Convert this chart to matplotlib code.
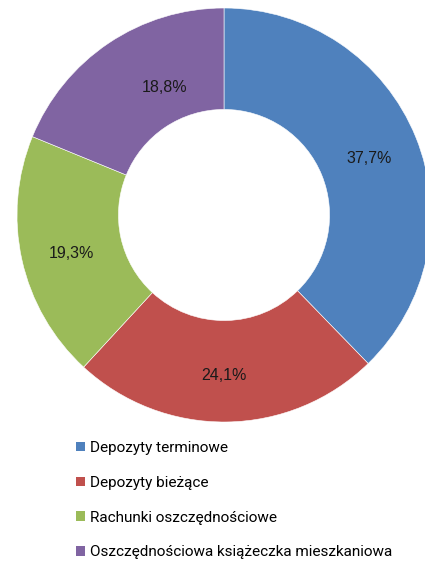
import matplotlib as mpl; mpl.use("Agg")
import matplotlib.pyplot as plt
from matplotlib.patches import Patch

# shares of household deposits (%)
labels = ["Depozyty terminowe", "Depozyty bieżące",
          "Rachunki oszczędnościowe", "Oszczędnościowa książeczka mieszkaniowa"]
values = [37.7, 24.1, 19.3, 18.8]
colors = ["#4f81bd", "#c0504d", "#9bbb59", "#8064a2"]

W, H = 425, 562
fig = plt.figure(figsize=(W / 100, H / 100), dpi=100)

# donut: centre (224, 215) px, outer radius 207 px
cx, cy, r = 224, 215, 207
ax = fig.add_axes([(cx - r) / W, 1 - (cy + r) / H, 2 * r / W, 2 * r / H])
wedges, _, autotexts = ax.pie(
    values, colors=colors, startangle=90, counterclock=False,
    autopct=lambda p: f"{p:.1f}%".replace(".", ","), pctdistance=0.76,
    wedgeprops=dict(width=0.49, edgecolor="white", linewidth=0.4),
    textprops=dict(fontsize=11.5, color="#1a1a1a", family="Liberation Sans"))
# Excel-style label placement (radius units)
label_pos = [(0.70, 0.275), (0.0, -0.775), (-0.735, -0.185), (-0.285, 0.615)]
for t, p in zip(autotexts, label_pos):
    t.set_position(p)
ax.set_xlim(-1, 1)
ax.set_ylim(-1, 1)
ax.set_aspect("equal")
ax.axis("off")

handles = [Patch(facecolor=c, edgecolor="none") for c in colors]
fig.legend(handles, labels, loc="upper left", bbox_to_anchor=(76 / W, 1 - 441 / H),
           frameon=False, prop=dict(family="Roboto", size=11),
           handlelength=0.57, handleheight=0.57, handletextpad=0.32,
           labelspacing=1.36, borderpad=0, borderaxespad=0)

fig.savefig("out.png", dpi=100, facecolor="white")
